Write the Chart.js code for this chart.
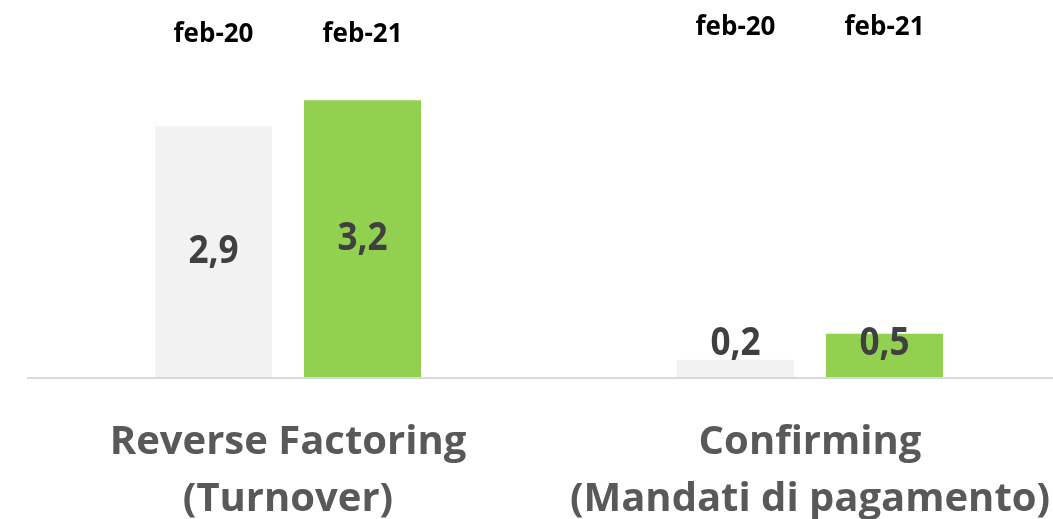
<!DOCTYPE html>
<html>
<head>
<meta charset="utf-8">
<script src="https://cdn.jsdelivr.net/npm/chart.js@4/dist/chart.umd.min.js"></script>
<style>
  html, body { margin: 0; padding: 0; background: #fff; overflow: hidden; }
  #wrap { position: relative; width: 1100px; height: 519px; }
</style>
</head>
<body>
<div id="wrap"><canvas id="myBarChart"></canvas></div>
<script>
// Data
const categories = [['Reverse Factoring', '(Turnover)'], ['Confirming', '(Mandati di pagamento)']];
const seriesNames = ['feb-20', 'feb-21'];
const feb20Values = [2.9, 0.2];
const feb21Values = [3.2, 0.5];

const FONT = "'Open Sans', 'DejaVu Sans', sans-serif";

// etichette: valori, intestazioni serie, categorie e linea asse
const labelsPlugin = {
    id: 'labelsPlugin',
    afterDatasetsDraw(chart) {
        const ctx = chart.ctx;
        const area = chart.chartArea;
        const xScale = chart.scales.x;
        ctx.save();

        // linea asse
        ctx.strokeStyle = '#d9d9d9';
        ctx.lineWidth = 2;
        ctx.beginPath();
        ctx.moveTo(area.left, area.bottom + 1);
        ctx.lineTo(area.right, area.bottom + 1);
        ctx.stroke();

        const headerY = [area.top + 11, area.top + 4];
        chart.data.datasets.forEach((ds, di) => {
            const meta = chart.getDatasetMeta(di);
            meta.data.forEach((bar, i) => {
                // valore (leggermente stretto in orizzontale)
                const mid = (bar.y + bar.base) / 2;
                const cy = Math.min(mid, bar.base - 33.5);
                ctx.save();
                ctx.translate(bar.x, cy);
                ctx.scale(0.9, 1);
                ctx.font = 'bold 39px ' + FONT;
                ctx.fillStyle = '#404040';
                ctx.textAlign = 'center';
                ctx.textBaseline = 'middle';
                ctx.fillText(ds.data[i].toFixed(1).replace('.', ','), 0, 0);
                ctx.restore();

                // intestazione serie
                ctx.font = 'bold 26px ' + FONT;
                ctx.fillStyle = '#000';
                ctx.textAlign = 'center';
                ctx.textBaseline = 'alphabetic';
                ctx.fillText(ds.label, bar.x, headerY[i]);
            });
        });

        // categorie
        ctx.font = 'bold 40px ' + FONT;
        ctx.fillStyle = '#595959';
        ctx.textAlign = 'center';
        ctx.textBaseline = 'alphabetic';
        categories.forEach((lines, i) => {
            const x = xScale.getPixelForValue(i);
            lines.forEach((t, li) => {
                ctx.fillText(t, x, area.bottom + 77 + li * 57);
            });
        });
        ctx.restore();
    }
};

const ctxBar = document.getElementById('myBarChart').getContext('2d');
const myBarChart = new Chart(ctxBar, {
    type: 'bar',
    data: {
        labels: categories.map(c => c.join(' ')),
        datasets: [
            {
                label: seriesNames[0],
                data: feb20Values,
                backgroundColor: '#f2f2f2',
                categoryPercentage: 0.571,
                barPercentage: 0.785,
            },
            {
                label: seriesNames[1],
                data: feb21Values,
                backgroundColor: '#92d050',
                categoryPercentage: 0.571,
                barPercentage: 0.785,
            }
        ]
    },
    options: {
        responsive: true,
        maintainAspectRatio: false,
        animation: false,
        layout: { padding: { left: 27, right: 29, top: 31, bottom: 142 } },
        plugins: { legend: { display: false }, tooltip: { enabled: false } },
        scales: {
            x: { display: false },
            y: { display: false, min: 0, max: 4 }
        }
    },
    plugins: [labelsPlugin]
});
</script>
</body>
</html>
